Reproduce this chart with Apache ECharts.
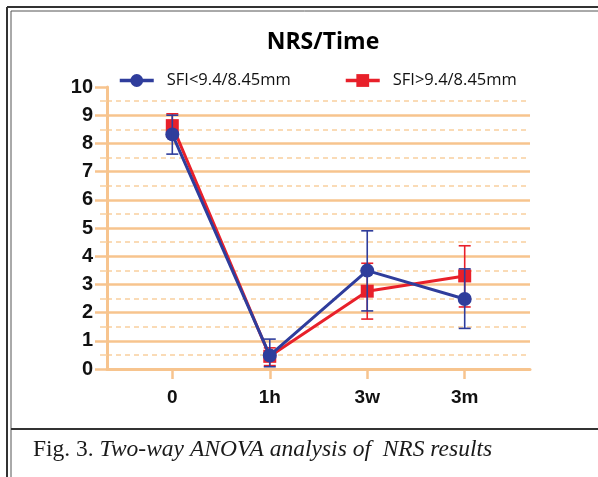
<!DOCTYPE html>
<html><head><meta charset="utf-8">
<script src="https://cdn.jsdelivr.net/npm/echarts@6/dist/echarts.min.js"></script>
<style>html,body{margin:0;padding:0;background:#fff}#c{width:598px;height:477px}</style>
</head><body><div id="c"></div>
<script>
var categories = ['0', '1h', '3w', '3m'];
var blueName = 'SFI<9.4/8.45mm';
var redName = 'SFI>9.4/8.45mm';
var blueMean = [8.32, 0.48, 3.49, 2.48];
var blueLow  = [7.62, 0.08, 2.06, 1.44];
var blueHigh = [9.00, 1.06, 4.90, 3.55];
var redMean  = [8.63, 0.45, 2.76, 3.30];
var redLow   = [8.22, 0.12, 1.77, 2.20];
var redHigh  = [9.05, 0.75, 3.75, 4.37];
var yTicks = [0, 1, 2, 3, 4, 5, 6, 7, 8, 9, 10];

var BLUE = '#2f3d9c', RED = '#e8202a', OR = '#f7c48e', OR2 = '#f9cf9f';

function pts(arr){ return arr.map(function(v,i){ return [i, v]; }); }
function errData(lo, hi){ return lo.map(function(v,i){ return [i, v, hi[i]]; }); }
function errRender(color){
  return function(params, api){
    var x = api.value(0);
    var p1 = api.coord([x, api.value(1)]);
    var p2 = api.coord([x, api.value(2)]);
    var w = 6;
    var st = {stroke: color, lineWidth: 1.6};
    return {type:'group', children:[
      {type:'line', shape:{x1:p1[0], y1:p1[1], x2:p2[0], y2:p2[1]}, style:st},
      {type:'line', shape:{x1:p1[0]-w, y1:p1[1], x2:p1[0]+w, y2:p1[1]}, style:st},
      {type:'line', shape:{x1:p2[0]-w, y1:p2[1], x2:p2[0]+w, y2:p2[1]}, style:st}
    ]};
  };
}

var chart = echarts.init(document.getElementById('c'), null, {renderer:'canvas'});
chart.setOption({
  animation: false,
  backgroundColor: '#fff',
  title: {text: 'NRS/Time', left: 318, top: 26, textAlign: 'center',
    textStyle: {fontFamily: 'Open Sans', fontWeight: 'bold', fontSize: 23, color: '#000'}},
  legend: [
    {data: [blueName], left: 113, top: 67, itemWidth: 34, itemHeight: 16,
     lineStyle: {width: 3.5},
     textStyle: {fontFamily: 'Open Sans', fontSize: 16.5, color: '#111', padding: [0,0,0,8]}},
    {data: [redName], left: 339, top: 67, itemWidth: 34, itemHeight: 16,
     lineStyle: {width: 3.5},
     textStyle: {fontFamily: 'Open Sans', fontSize: 16.5, color: '#111', padding: [0,0,0,8]}}
  ],
  grid: {left: 107, right: 68, top: 87, bottom: 108, containLabel: false},
  xAxis: {
    type: 'value', min: -0.67, max: 3.67,
    axisLine: {show: true, onZero: false, lineStyle: {color: OR, width: 3}},
    axisTick: {show: true, customValues: [0,1,2,3], length: 10, lineStyle: {color: OR, width: 2.5}},
    axisLabel: {customValues: [0,1,2,3], margin: 19,
      formatter: function(v){ return categories[Math.round(v)]; },
      fontFamily: 'Liberation Sans', fontWeight: 'bold', fontSize: 19, color: '#111'},
    splitLine: {show: false}
  },
  yAxis: {
    type: 'value', min: 0, max: 10, interval: 1,
    axisLine: {show: true, onZero: false, lineStyle: {color: OR, width: 3}},
    axisTick: {show: true, length: 12, lineStyle: {color: OR, width: 2.5}},
    minorTick: {show: true, splitNumber: 2, length: 7, lineStyle: {color: OR2, width: 1.5}},
    axisLabel: {margin: 14, fontFamily: 'Liberation Sans', fontWeight: 'bold', fontSize: 20, color: '#111',
      formatter: function(v){ return String(yTicks[Math.round(v)]); }},
    splitLine: {show: true, showMaxLine: false, lineStyle: {color: OR, width: 2.5}},
    minorSplitLine: {show: true, lineStyle: {color: OR2, width: 1.5, type: [5, 4]}}
  },
  series: [
    {name: redName, type: 'line', data: pts(redMean), z: 3,
     symbol: 'rect', symbolSize: 13, itemStyle: {color: RED}, lineStyle: {color: RED, width: 3}},
    {type: 'custom', data: errData(redLow, redHigh), renderItem: errRender(RED), z: 4, silent: true},
    {name: blueName, type: 'line', data: pts(blueMean), z: 5,
     symbol: 'circle', symbolSize: 14, itemStyle: {color: BLUE}, lineStyle: {color: BLUE, width: 3}},
    {type: 'custom', data: errData(blueLow, blueHigh), renderItem: errRender(BLUE), z: 6, silent: true}
  ],
  graphic: [
    {type:'line', shape:{x1:7, y1:7, x2:7, y2:477}, style:{stroke:'#333', lineWidth:2}},
    {type:'line', shape:{x1:11, y1:11, x2:11, y2:477}, style:{stroke:'#555', lineWidth:1}},
    {type:'line', shape:{x1:7, y1:7, x2:598, y2:7}, style:{stroke:'#333', lineWidth:2}},
    {type:'line', shape:{x1:11, y1:11, x2:598, y2:11}, style:{stroke:'#555', lineWidth:1}},
    {type:'line', shape:{x1:11, y1:429, x2:598, y2:429}, style:{stroke:'#333', lineWidth:2}},
    {type:'text', left: 33, top: 438, style:{
      text: '{n|Fig. 3. }{i|Two-way ANOVA analysis of  NRS results}',
      rich: {
        n: {fontFamily: 'Liberation Serif', fontSize: 23.5, fill: '#1a1a1a'},
        i: {fontFamily: 'Liberation Serif', fontStyle: 'italic', fontSize: 23.5, fill: '#1a1a1a'}
      }}}
  ]
});
</script></body></html>
